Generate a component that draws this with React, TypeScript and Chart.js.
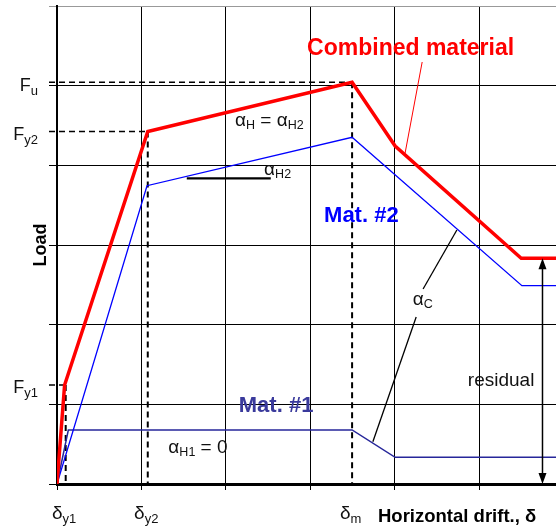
import React, { useEffect, useRef } from "react";
import { Chart, registerables } from "chart.js";

Chart.register(...registerables);

// ---- axis ranges ----
const X_MAX = 5.91;
const Y_MAX = 6;

// ---- series (drift units, load units) ----
const combinedX = [0, 0.09, 1.075, 3.495, 4.005, 5.498, 5.91];
const combinedY = [0, 1.243, 4.425, 5.042, 4.243, 2.833, 2.833];
const mat2X = [0, 1.066, 3.495, 5.506, 5.91];
const mat2Y = [0, 3.744, 4.352, 2.489, 2.489];
const mat1X = [0, 0.134, 3.495, 4.005, 5.91];
const mat1Y = [0, 0.678, 0.678, 0.335, 0.335];

// ---- special tick labels ----
const xTickValues = [0.103, 1.075, 3.495];
const xTickSubs = ["y1", "y2", "m"];
const yTickValues = [5.042, 4.425, 1.243];
const yTickSubs = ["u", "y2", "y1"];

// dashed reference lines: (x, y) corners
const dashX = [0.103, 1.075, 3.495];
const dashY = [1.243, 4.425, 5.042];

// ---- annotation geometry (data units) ----
const redLeader = [[4.325, 5.297], [4.123, 4.155]];
const acLeaderA = [[4.736, 3.188], [4.336, 2.448]];
const acLeaderB = [[4.254, 2.096], [3.741, 0.531]];
const aH2Bar = [[1.537, 3.837], [2.532, 3.837]];
const residualArrow = [5.75, 2.833, 0];

const FONT = "'Liberation Sans', Arial, Helvetica, sans-serif";

type Part = { t: string; sub?: boolean };

function drawRich(
  ctx: CanvasRenderingContext2D,
  x: number,
  y: number,
  parts: Part[],
  mainFont: string,
  subFont: string,
  subDy: number,
  color: string,
  align: "left" | "center" | "right"
) {
  let total = 0;
  const widths: number[] = [];
  for (const p of parts) {
    ctx.font = p.sub ? subFont : mainFont;
    const w = ctx.measureText(p.t).width;
    widths.push(w);
    total += w;
  }
  let cx = align === "left" ? x : align === "center" ? x - total / 2 : x - total;
  ctx.fillStyle = color;
  ctx.textAlign = "left";
  ctx.textBaseline = "alphabetic";
  parts.forEach((p, i) => {
    ctx.font = p.sub ? subFont : mainFont;
    ctx.fillText(p.t, cx, p.sub ? y + subDy : y);
    cx += widths[i];
  });
}

const overlay = {
  id: "overlay",
  beforeDatasetsDraw(chart: any) {
    const { ctx, chartArea } = chart;
    const xs = chart.scales.x;
    const ys = chart.scales.y;
    ctx.save();
    ctx.strokeStyle = "#000";
    ctx.setLineDash([6, 4]);
    for (let i = 0; i < dashX.length; i++) {
      const px = xs.getPixelForValue(dashX[i]);
      const py = ys.getPixelForValue(dashY[i]);
      ctx.lineWidth = 2;
      ctx.beginPath();
      ctx.moveTo(px, py);
      ctx.lineTo(px, chartArea.bottom);
      ctx.stroke();
      ctx.lineWidth = 1.5;
      ctx.beginPath();
      ctx.moveTo(chartArea.left - 8, py);
      ctx.lineTo(px, py);
      ctx.stroke();
    }
    ctx.restore();
  },
  afterDatasetsDraw(chart: any) {
    const { ctx } = chart;
    const xs = chart.scales.x;
    const ys = chart.scales.y;
    const P = (v: number[]) => [xs.getPixelForValue(v[0]), ys.getPixelForValue(v[1])];
    const seg = (a: number[][], color: string, w: number) => {
      const p0 = P(a[0]);
      const p1 = P(a[1]);
      ctx.strokeStyle = color;
      ctx.lineWidth = w;
      ctx.beginPath();
      ctx.moveTo(p0[0], p0[1]);
      ctx.lineTo(p1[0], p1[1]);
      ctx.stroke();
    };
    ctx.save();
    seg(redLeader, "#ff0000", 1);
    seg(acLeaderA, "#000", 1.3);
    seg(acLeaderB, "#000", 1.3);
    seg(aH2Bar, "#000", 2.2);

    // residual double arrow
    const ax = xs.getPixelForValue(residualArrow[0]);
    const aTop = ys.getPixelForValue(residualArrow[1]);
    const aBot = ys.getPixelForValue(residualArrow[2]);
    ctx.strokeStyle = "#000";
    ctx.fillStyle = "#000";
    ctx.lineWidth = 1.5;
    ctx.beginPath();
    ctx.moveTo(ax, aTop + 8);
    ctx.lineTo(ax, aBot - 8);
    ctx.stroke();
    ctx.beginPath();
    ctx.moveTo(ax, aTop);
    ctx.lineTo(ax - 4, aTop + 11);
    ctx.lineTo(ax + 4, aTop + 11);
    ctx.closePath();
    ctx.fill();
    ctx.beginPath();
    ctx.moveTo(ax, aBot);
    ctx.lineTo(ax - 4, aBot - 11);
    ctx.lineTo(ax + 4, aBot - 11);
    ctx.closePath();
    ctx.fill();

    // texts
    const T = (xv: number, yv: number, text: string, font: string, color: string) => {
      ctx.font = font;
      ctx.fillStyle = color;
      ctx.textAlign = "left";
      ctx.textBaseline = "alphabetic";
      ctx.fillText(text, xs.getPixelForValue(xv), ys.getPixelForValue(yv));
    };
    T(2.962, 5.385, "Combined material", `bold 23px ${FONT}`, "#ff0000");
    T(3.163, 3.289, "Mat. #2", `bold 22px ${FONT}`, "#0000ff");
    T(2.153, 0.904, "Mat. #1", `bold 22px ${FONT}`, "#3a3a9c");
    T(4.866, 1.23, "residual", `19px ${FONT}`, "#111");

    const mainF = `19px ${FONT}`;
    const subF = `12.5px ${FONT}`;
    const R = (xv: number, yv: number, parts: Part[]) =>
      drawRich(ctx, xs.getPixelForValue(xv), ys.getPixelForValue(yv), parts, mainF, subF, 3, "#111", "left");
    R(2.109, 4.494, [{ t: "α" }, { t: "H", sub: true }, { t: " = α" }, { t: "H2", sub: true }]);
    R(2.453, 3.879, [{ t: "α" }, { t: "H2", sub: true }]);
    R(1.319, 0.385, [{ t: "α" }, { t: "H1", sub: true }, { t: " = 0" }]);
    R(4.213, 2.247, [{ t: "α" }, { t: "C", sub: true }]);
    ctx.restore();
  },
  afterDraw(chart: any) {
    const { ctx } = chart;
    const xs = chart.scales.x;
    const ys = chart.scales.y;
    ctx.save();
    // y tick labels
    yTickValues.forEach((v, i) => {
      const py = ys.getPixelForValue(v);
      drawRich(ctx, 38, py + 8.5, [{ t: "F" }, { t: yTickSubs[i], sub: true }],
        `18px ${FONT}`, `13px ${FONT}`, 4, "#111", "right");
    });
    // x tick labels
    xTickValues.forEach((v, i) => {
      const px = xs.getPixelForValue(v);
      drawRich(ctx, px - 1.5, 519, [{ t: "δ" }, { t: xTickSubs[i], sub: true }],
        `19px ${FONT}`, `13px ${FONT}`, 4, "#111", "center");
    });
    // axis titles
    ctx.fillStyle = "#000";
    ctx.font = `bold 18.5px ${FONT}`;
    ctx.textAlign = "left";
    ctx.textBaseline = "alphabetic";
    ctx.fillText("Horizontal drift., δ", 378, 522);
    ctx.save();
    ctx.translate(46, 245);
    ctx.rotate(-Math.PI / 2);
    ctx.font = `bold 18px ${FONT}`;
    ctx.textAlign = "center";
    ctx.fillText("Load", 0, 0);
    ctx.restore();
    ctx.restore();
  },
};

export default function App() {
  const ref = useRef<HTMLCanvasElement | null>(null);
  useEffect(() => {
    if (!ref.current) return;
    const mk = (xs: number[], ys: number[]) => xs.map((x, i) => ({ x, y: ys[i] }));
    const chart = new Chart(ref.current, {
      type: "line",
      data: {
        datasets: [
          { label: "Combined material", data: mk(combinedX, combinedY), borderColor: "#ff0000", borderWidth: 3.5, pointRadius: 0, tension: 0, fill: false },
          { label: "Mat. #2", data: mk(mat2X, mat2Y), borderColor: "#0000ff", borderWidth: 1.3, pointRadius: 0, tension: 0, fill: false },
          { label: "Mat. #1", data: mk(mat1X, mat1Y), borderColor: "#26269a", borderWidth: 1.5, pointRadius: 0, tension: 0, fill: false },
        ],
      },
      options: {
        animation: false,
        responsive: false,
        devicePixelRatio: 1,
        layout: { padding: { left: 49, top: 6, right: 0, bottom: 39 } },
        plugins: { legend: { display: false }, tooltip: { enabled: false } },
        scales: {
          x: {
            type: "linear",
            min: 0,
            max: X_MAX,
            ticks: { stepSize: 1, display: false, includeBounds: false },
            grid: { color: "#000", lineWidth: 1, drawTicks: true, tickLength: 6, tickColor: "#000" },
            border: { color: "#000", width: 3 },
          },
          y: {
            type: "linear",
            min: 0,
            max: Y_MAX,
            ticks: { stepSize: 1, display: false },
            grid: {
              color: (c: any) => (c.tick && c.tick.value === Y_MAX ? "#999" : "#000"),
              lineWidth: 1,
              drawTicks: true,
              tickLength: 8,
            },
            border: { color: "#000", width: 2 },
          },
        },
      } as any,
      plugins: [overlay],
    });
    return () => chart.destroy();
  }, []);
  return (
    <div style={{ position: "fixed", left: 0, top: 0, width: 556, height: 529, background: "#fff" }}>
      <canvas ref={ref} width={556} height={529} style={{ display: "block" }} />
    </div>
  );
}
